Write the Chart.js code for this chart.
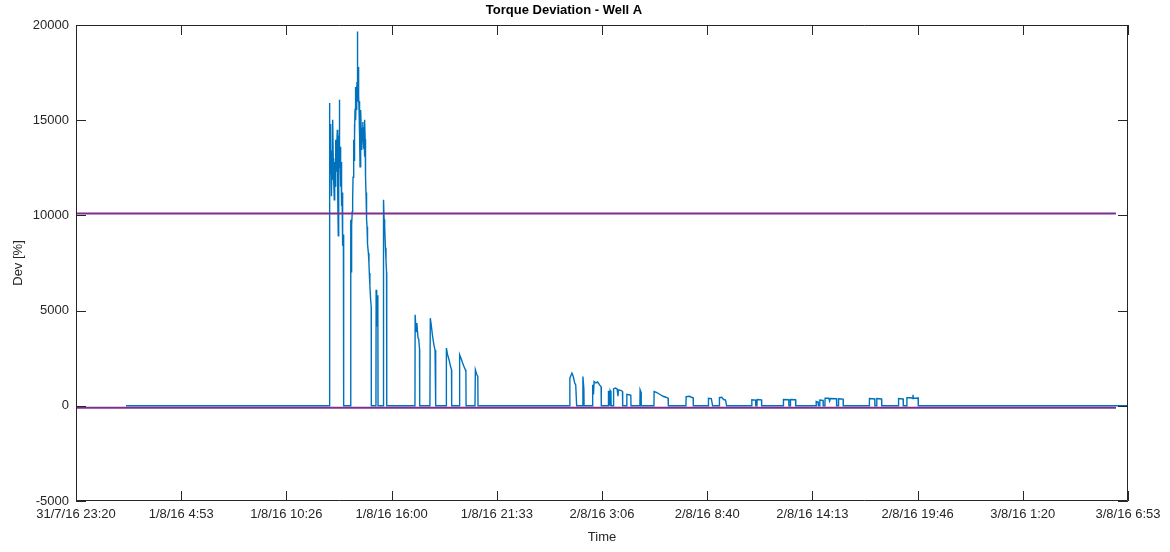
<!DOCTYPE html>
<html>
<head>
<meta charset="utf-8">
<title>Torque Deviation - Well A</title>
<script src="https://cdn.jsdelivr.net/npm/chart.js@4.4.1/dist/chart.umd.min.js"></script>
<style>
  html, body { margin: 0; padding: 0; background: #fff; }
  canvas { display: block; }
</style>
</head>
<body>
<canvas id="torque" width="1170" height="552"></canvas>
<script>
// time is in hours after 31/7/16 23:20, one x tick every 5 h 33 m 20 s
var xTickLabels = ['31/7/16 23:20', '1/8/16 4:53', '1/8/16 10:26', '1/8/16 16:00', '1/8/16 21:33',
  '2/8/16 3:06', '2/8/16 8:40', '2/8/16 14:13', '2/8/16 19:46', '3/8/16 1:20', '3/8/16 6:53'];
var yTickLabels = ['-5000', '0', '5000', '10000', '15000', '20000'];

var sampleHours = [
  2.64,
  13.37, 13.38, 13.39, 13.40, 13.41, 13.43, 13.44, 13.46, 13.47, 13.48,
  13.50, 13.52, 13.54, 13.555, 13.57, 13.585, 13.60, 13.62, 13.64, 13.655,
  13.67, 13.685, 13.70, 13.715, 13.73, 13.745, 13.76, 13.78, 13.80, 13.815,
  13.83, 13.85, 13.865, 13.88, 13.895, 13.905, 13.915, 13.93, 13.945, 13.96,
  13.975, 13.99, 14.00, 14.01, 14.025, 14.04, 14.05, 14.06, 14.075, 14.09,
  14.10, 14.12, 14.135,
  14.50, 14.51, 14.53, 14.54, 14.57, 14.59, 14.61, 14.63, 14.65, 14.665,
  14.68, 14.69, 14.70, 14.71, 14.72, 14.735, 14.75, 14.765, 14.78, 14.80,
  14.82, 14.83, 14.84, 14.85, 14.855, 14.86, 14.87, 14.88, 14.89, 14.90,
  14.91, 14.92, 14.93, 14.94, 14.95, 14.96, 14.97, 14.98, 14.99, 15.00,
  15.015, 15.03, 15.04, 15.05, 15.065, 15.08, 15.09, 15.10, 15.12, 15.14,
  15.155, 15.17, 15.185, 15.20, 15.21, 15.225, 15.235, 15.245, 15.26, 15.27,
  15.28, 15.29, 15.30, 15.315, 15.33, 15.345, 15.36, 15.37, 15.38, 15.41,
  15.44, 15.47, 15.49, 15.52, 15.56, 15.59, 15.595,
  15.84, 15.85, 15.88, 15.91, 15.94, 15.95,
  16.22, 16.24, 16.27, 16.30, 16.34, 16.37, 16.40, 16.41,
  17.90, 17.91, 17.96, 18.00, 18.06, 18.10, 18.14, 18.15,
  18.69, 18.71, 18.76, 18.82, 18.90, 18.96, 18.99, 19.00,
  19.54, 19.56, 19.62, 19.70, 19.78, 19.83, 19.84,
  20.24, 20.26, 20.36, 20.45, 20.56, 20.59, 20.60,
  21.07, 21.09, 21.17, 21.22, 21.23,
  26.05, 26.08, 26.19, 26.26, 26.34, 26.39, 26.44,
  26.75, 26.77, 26.82, 26.83,
  27.26, 27.27, 27.30, 27.33, 27.36, 27.45, 27.55, 27.65, 27.73, 27.74,
  28.11, 28.12, 28.16, 28.17, 28.20, 28.21, 28.25, 28.26,
  28.38, 28.39, 28.50, 28.58, 28.62, 28.65, 28.80, 28.86, 28.87,
  29.08, 29.09, 29.20, 29.30, 29.31,
  29.78, 29.79, 29.84, 29.85,
  30.52, 30.53, 30.65, 30.80, 31.00, 31.15, 31.27, 31.28,
  32.21, 32.22, 32.40, 32.50, 32.59, 32.60,
  33.39, 33.40, 33.55, 33.62,
  33.97, 33.98, 34.10, 34.20, 34.30, 34.36,
  35.68, 35.69, 35.89, 35.90, 35.96, 35.97, 36.20, 36.21,
  37.35, 37.36, 37.64, 37.65, 37.72, 37.73, 38.00, 38.01,
  39.08, 39.09, 39.19, 39.20, 39.27, 39.28, 39.45, 39.46,
  39.55, 39.56, 39.75, 39.80, 39.83, 40.16, 40.17, 40.26, 40.27, 40.51, 40.52,
  41.89, 41.90, 42.18, 42.19, 42.28, 42.29, 42.54, 42.55,
  43.43, 43.44, 43.68, 43.69, 43.87, 43.88, 44.10, 44.18, 44.20, 44.22, 44.40, 44.47, 44.48,
  55.556
];

var deviation = [
  0,
  0, 14000, 15900, 13000, 14200, 12200, 13800, 14800, 12600, 13400,
  11000, 12900, 11870, 13600, 15020, 13000, 12500, 11800, 10820, 12200,
  12800, 12000, 11500, 13200, 13970, 12900, 12300, 13700, 14500, 12700,
  11000, 8930, 11300, 12000, 14200, 16070, 13800, 12500, 13600, 12900,
  12200, 11500, 12800, 12300, 11000, 10500, 11200, 10140, 9700, 9200,
  8400, 9000, 0,
  0, 9770, 8800, 7000, 9500, 10200, 10820, 12000, 12500, 13500,
  13970, 12900, 13200, 14800, 14200, 15600, 16750, 15200, 15000, 16300,
  15540, 16500, 17000, 18000, 19660, 17200, 17500, 16200, 16960, 16000,
  17300, 16500, 17800, 16300, 15500, 14600, 15800, 16000, 14200, 12550,
  13600, 14200, 13500, 15540, 14300, 13800, 14600, 13440, 14200, 14900,
  13900, 14650, 13700, 13500, 14200, 13080, 13900, 14500, 15020, 14000,
  13800, 12700, 12000, 11200, 10820, 10200, 9800, 9400, 9090, 8500,
  8030, 7500, 6980, 6300, 5570, 5200, 0,
  0, 6100, 5000, 4200, 5800, 0,
  0, 10820, 9800, 9400, 8300, 7670, 7000, 0,
  0, 4780, 3900, 4350, 3570, 3500, 3000, 0,
  0, 4600, 4250, 3730, 3200, 2930, 2700, 0,
  0, 3030, 2700, 2420, 2060, 1900, 0,
  0, 2680, 2420, 2150, 1890, 1800, 0,
  0, 1890, 1630, 1550, 0,
  0, 1450, 1720, 1540, 1190, 1100, 0,
  0, 1540, 900, 0,
  0, 900, 1100, 600, 1280, 1200, 1250, 1100, 1000, 0,
  0, 750, 750, 0, 0, 800, 700, 0,
  0, 900, 930, 870, 500, 840, 800, 750, 0,
  0, 600, 580, 550, 0,
  0, 840, 700, 0,
  0, 750, 700, 620, 500, 450, 400, 0,
  0, 480, 500, 450, 420, 0,
  0, 400, 380, 0,
  0, 430, 450, 330, 300, 0,
  0, 320, 300, 0, 0, 330, 310, 0,
  0, 330, 320, 0, 0, 330, 320, 0,
  0, 230, 200, 0, 0, 300, 280, 0,
  0, 400, 400, 250, 380, 370, 0, 0, 370, 350, 0,
  0, 380, 360, 0, 0, 380, 360, 0,
  0, 380, 360, 0, 0, 420, 420, 380, 580, 400, 400, 420, 0,
  0
];

var upperLimit = 10100;
var lowerLimit = -100;
var limitHours = [0, 54.92];

var xStep = 55.5556 / 10;
var textColor = '#262626';
var fontFamily = '"Liberation Sans", Arial, Helvetica, sans-serif';

var devPoints = sampleHours.map(function (h, i) { return { x: h, y: deviation[i] }; });
function limitLine(v) {
  return limitHours.map(function (h) { return { x: h, y: v }; });
}

// MATLAB style box with ticks pointing into the axes
var boxTicks = {
  id: 'boxTicks',
  afterDraw: function (chart) {
    var ctx = chart.ctx, a = chart.chartArea, xs = chart.scales.x, ys = chart.scales.y;
    ctx.save();
    ctx.strokeStyle = textColor;
    ctx.lineWidth = 1;
    ctx.beginPath();
    ctx.rect(Math.round(a.left) + 0.5, Math.round(a.top) + 0.5,
      Math.round(a.right - a.left) - 1, Math.round(a.bottom - a.top) - 1);
    xs.ticks.forEach(function (t) {
      var px = Math.round(xs.getPixelForValue(t.value)) + 0.5;
      ctx.moveTo(px, a.bottom); ctx.lineTo(px, a.bottom - 10);
      ctx.moveTo(px, a.top); ctx.lineTo(px, a.top + 10);
    });
    ys.ticks.forEach(function (t) {
      var py = Math.round(ys.getPixelForValue(t.value)) + 0.5;
      ctx.moveTo(a.left, py); ctx.lineTo(a.left + 10, py);
      ctx.moveTo(a.right, py); ctx.lineTo(a.right - 10, py);
    });
    ctx.stroke();
    ctx.restore();
  }
};

new Chart(document.getElementById('torque'), {
  type: 'line',
  data: {
    datasets: [{
      data: limitLine(upperLimit),
      borderColor: '#7E2F8E',
      borderWidth: 2
    }, {
      data: limitLine(lowerLimit),
      borderColor: '#7E2F8E',
      borderWidth: 2
    }, {
      data: devPoints,
      borderColor: '#0072BD',
      borderWidth: 1.4
    }]
  },
  options: {
    responsive: false,
    animation: false,
    parsing: false,
    elements: { point: { radius: 0 }, line: { tension: 0 } },
    layout: { padding: { top: 0, right: 42, bottom: 0, left: 0 } },
    plugins: {
      legend: { display: false },
      tooltip: { enabled: false },
      title: {
        display: true,
        text: 'Torque Deviation - Well A',
        color: '#000',
        font: { family: fontFamily, size: 13, weight: 'bold' },
        padding: { top: 3, bottom: 6.4 }
      }
    },
    scales: {
      x: {
        type: 'linear',
        min: 0,
        max: 55.5556,
        grid: { display: false, drawTicks: false },
        border: { display: false },
        afterFit: function (s) { s.height = 51; },
        ticks: {
          stepSize: xStep,
          autoSkip: false,
          maxRotation: 0,
          padding: 6,
          color: textColor,
          font: { family: fontFamily, size: 13 },
          callback: function (v, i) { return xTickLabels[i]; }
        },
        title: {
          display: true,
          text: 'Time',
          color: textColor,
          font: { family: fontFamily, size: 13 },
          padding: { top: 0, bottom: 7 }
        }
      },
      y: {
        min: -5000,
        max: 20000,
        grid: { display: false, drawTicks: false },
        border: { display: false },
        afterFit: function (s) { s.width = 76; },
        ticks: {
          stepSize: 5000,
          padding: 7,
          color: textColor,
          font: { family: fontFamily, size: 13 },
          callback: function (v, i) { return yTickLabels[i]; }
        },
        title: {
          display: true,
          text: 'Dev [%]',
          color: textColor,
          font: { family: fontFamily, size: 13 },
          padding: { top: 11, bottom: 0 }
        }
      }
    }
  },
  plugins: [boxTicks]
});
</script>
</body>
</html>
